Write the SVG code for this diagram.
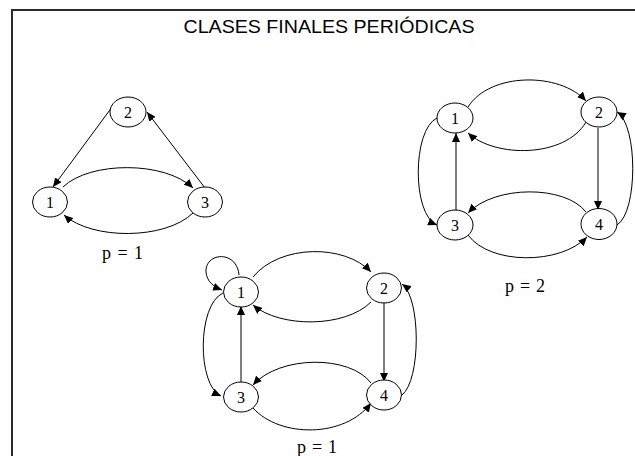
<svg xmlns="http://www.w3.org/2000/svg" width="635" height="456" viewBox="0 0 635 456">
<defs>
<marker id="ah" markerUnits="userSpaceOnUse" markerWidth="9" markerHeight="8" refX="9" refY="4" orient="auto">
<path d="M0,0 L9,4 L0,8 z" fill="#000"/>
</marker>
<style>
.n ellipse{fill:#fff;stroke:#000;stroke-width:1}
.n text{font-family:"Liberation Serif","Times New Roman",serif;font-size:16px;text-anchor:middle;fill:#000}
.e path{fill:none;stroke:#000;stroke-width:1;marker-end:url(#ah)}
.lbl{font-family:"Liberation Serif","Times New Roman",serif;font-size:18px;text-anchor:middle;fill:#000}
.title{font-family:"Liberation Sans",Arial,sans-serif;font-size:18.5px;text-anchor:middle;fill:#000}
</style>
</defs>
<rect width="635" height="456" fill="#fff"/>
<path d="M12,456 L12,10 L635,10" fill="none" stroke="#2b2b2b" stroke-width="2"/>
<text class="title" x="329" y="33" textLength="291" lengthAdjust="spacingAndGlyphs">CLASES FINALES PERIÓDICAS</text>

<g id="connectors" class="e">
<!-- graph A -->
<path d="M115,103 L53,187"/>
<path d="M205,188 L147,112"/>
<path d="M63,187 C90,161 165,161 193,188"/>
<path d="M193,213 C165,240 92,240 64,215"/>
<!-- graph B -->
<path d="M468,107 C490,72 560,72 586,101"/>
<path d="M586,122 C565,158 495,158 468,133"/>
<path d="M598,128 L598,210"/>
<path d="M456,210 L456,133"/>
<path d="M437,118 C412,130 412,215 437,225"/>
<path d="M617,225 C638,212 638,125 617,112"/>
<path d="M586,212 C565,185 495,185 468,213"/>
<path d="M468,235 C490,265 560,265 587,237"/>
<!-- graph C -->
<path d="M239,275 C237,250 205,252 206,272 C207,282 214,287 222,290"/>
<path d="M253,277 C280,244 345,244 371,272"/>
<path d="M371,302 C345,328 280,328 253,305"/>
<path d="M384,301 L384,382"/>
<path d="M241,382 L241,306"/>
<path d="M223,293 C197,305 197,385 221,396"/>
<path d="M402,395 C421,380 421,298 402,284"/>
<path d="M371,383 C350,355 280,355 253,385"/>
<path d="M253,408 C280,438 345,438 371,403"/>
</g>

<g id="A1" class="n"><ellipse cx="50" cy="202" rx="17.5" ry="15"/><text x="50" y="207.5">1</text></g>
<g id="A2" class="n"><ellipse cx="128" cy="112" rx="18" ry="15"/><text x="128" y="117.5">2</text></g>
<g id="A3" class="n"><ellipse cx="205" cy="202" rx="17.5" ry="15"/><text x="205" y="207.5">3</text></g>

<g id="B1" class="n"><ellipse cx="455" cy="118" rx="18" ry="15"/><text x="455" y="123.5">1</text></g>
<g id="B2" class="n"><ellipse cx="599" cy="112" rx="18" ry="15"/><text x="599" y="117.5">2</text></g>
<g id="B3" class="n"><ellipse cx="455" cy="225" rx="18" ry="15"/><text x="455" y="230.5">3</text></g>
<g id="B4" class="n"><ellipse cx="599" cy="224" rx="18" ry="15.5"/><text x="599" y="229.5">4</text></g>

<g id="C1" class="n"><ellipse cx="241" cy="292" rx="17.5" ry="15"/><text x="241" y="297.5">1</text></g>
<g id="C2" class="n"><ellipse cx="384" cy="288" rx="17.5" ry="15"/><text x="384" y="293.5">2</text></g>
<g id="C3" class="n"><ellipse cx="241" cy="397" rx="17.5" ry="15"/><text x="241" y="402.5">3</text></g>
<g id="C4" class="n"><ellipse cx="384" cy="395" rx="17.5" ry="15"/><text x="384" y="400.5">4</text></g>

<text class="lbl" x="122.5" y="259" textLength="41" lengthAdjust="spacing">p = 1</text>
<text class="lbl" x="525" y="292" textLength="40" lengthAdjust="spacing">p = 2</text>
<text class="lbl" x="317" y="453" textLength="40" lengthAdjust="spacing">p = 1</text>
</svg>
